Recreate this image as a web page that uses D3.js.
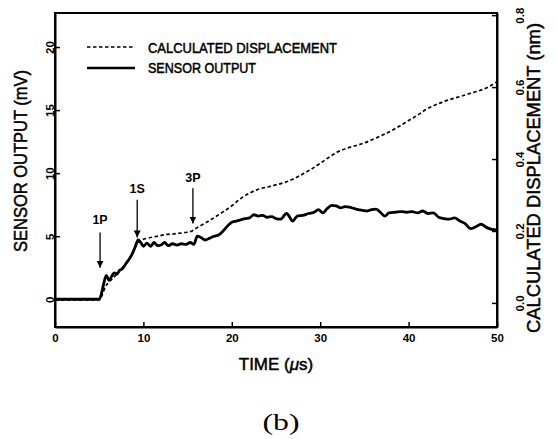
<!DOCTYPE html>
<html>
<head>
<style>
  body { margin: 0; background: #fff; }
  svg text { font-family: "Liberation Sans Narrow", "Liberation Sans", Arial, sans-serif; fill: #000; }
</style>
<script src="https://d3js.org/d3.v7.min.js"></script>
</head>
<body>
<script>
// sensor output (mV) vs time (us)
const sensorT = [0, 5.0, 5.2, 5.5, 5.8, 6.1, 6.4, 6.7, 7.0, 7.3, 7.6, 7.9, 8.2, 8.5, 8.8, 9.1, 9.4, 9.7, 10.0, 10.4, 10.8, 11.2, 11.6, 12.0, 12.4, 12.8, 13.3, 13.8, 14.3, 14.8, 15.3, 15.7, 16.1, 16.5, 17.0, 17.5, 18.0, 18.5, 19.0, 19.5, 20.0, 20.5, 21.0, 21.5, 22.0, 22.5, 23.0, 23.5, 24.0, 24.5, 25.0, 25.5, 26.2, 26.9, 27.4, 28.0, 28.7, 29.3, 29.8, 30.3, 30.8, 31.3, 31.8, 32.3, 32.8, 33.3, 33.8, 34.3, 34.8, 35.3, 35.8, 36.3, 36.8, 37.3, 37.8, 38.5, 39.2, 39.8, 40.4, 41.0, 41.6, 42.2, 42.8, 43.4, 44.0, 44.6, 45.2, 45.8, 46.4, 47.0, 47.6, 48.2, 48.8, 49.4, 50];
const sensorV = [0, 0, 0.3, 1.2, 1.9, 1.5, 1.8, 2.1, 2.0, 2.3, 2.4, 2.7, 3.0, 3.3, 3.7, 4.2, 4.7, 4.5, 4.2, 4.45, 4.2, 4.5, 4.25, 4.3, 4.5, 4.25, 4.4, 4.3, 4.4, 4.35, 4.5, 4.35, 5.0, 4.9, 4.7, 4.85, 5.0, 5.1, 5.4, 5.8, 6.1, 6.2, 6.3, 6.4, 6.45, 6.7, 6.6, 6.65, 6.5, 6.55, 6.4, 6.35, 6.8, 6.2, 6.6, 6.65, 6.8, 6.9, 7.1, 6.85, 7.2, 7.45, 7.4, 7.25, 7.35, 7.3, 7.2, 7.1, 7.05, 7.0, 7.1, 7.15, 6.9, 6.6, 6.85, 6.9, 6.95, 6.9, 6.95, 6.85, 7.0, 6.8, 6.85, 6.5, 6.4, 6.35, 6.45, 6.2, 6.0, 5.6, 5.75, 5.95, 5.7, 5.55, 5.5];

// calculated displacement (nm) vs time (us)
const dispT = [0, 5.0, 5.3, 5.7, 6.2, 6.8, 7.5, 8.2, 8.8, 9.3, 9.8, 10.5, 11.5, 12.5, 13.5, 14.5, 15.3, 16, 17, 18, 19, 20, 21, 22, 23, 24, 25, 26, 27, 28, 29, 30, 31, 32, 33, 34, 35, 36, 37, 38, 39, 40, 41, 42, 43, 44, 45, 46, 47, 48, 49, 50];
const dispV = [0.008, 0.008, 0.02, 0.045, 0.06, 0.075, 0.095, 0.115, 0.14, 0.165, 0.175, 0.18, 0.185, 0.19, 0.192, 0.195, 0.198, 0.208, 0.222, 0.237, 0.253, 0.27, 0.29, 0.305, 0.316, 0.322, 0.328, 0.335, 0.345, 0.358, 0.372, 0.388, 0.405, 0.42, 0.43, 0.437, 0.445, 0.455, 0.466, 0.478, 0.492, 0.507, 0.522, 0.538, 0.55, 0.56, 0.568, 0.575, 0.583, 0.59, 0.6, 0.615];

// wave arrivals: label, time, arrow tip / tail / label height in mV
const waveLabels = ["1P", "1S", "3P"];
const waveT = [5.1, 9.3, 15.6];
const waveTip = [2.5, 4.9, 6.0];
const waveTail = [5.3, 7.9, 8.8];
const waveText = [6.0, 8.4, 9.3];

const xTicks = [0, 10, 20, 30, 40, 50];
const yTicks = [0, 5, 10, 15, 20];
const y2Ticks = [0.0, 0.2, 0.4, 0.6, 0.8];

const W = 558, H = 439;
const mLeft = 55, mRight = 497, mTop = 13, mBottom = 327;

const svg = d3.select("body").append("svg").attr("width", W).attr("height", H);

const x = d3.scaleLinear().domain([0, 50]).range([mLeft, mRight]);
const y = d3.scaleLinear().domain([-2.2, 22.7]).range([mBottom, mTop]);
const y2 = d3.scaleLinear().domain([-0.067, 0.806]).range([mBottom, mTop]);

// frame
svg.append("rect").attr("x", mLeft).attr("y", mTop).attr("width", mRight - mLeft).attr("height", mBottom - mTop)
  .attr("fill", "none").attr("stroke", "#000").attr("stroke-width", 2);

// axes with inward ticks
const gx = svg.append("g").attr("transform", `translate(0,${mBottom})`)
  .call(d3.axisBottom(x).tickValues(xTicks).tickSizeInner(-5).tickSizeOuter(0).tickPadding(7));
const gy = svg.append("g").attr("transform", `translate(${mLeft},0)`)
  .call(d3.axisLeft(y).tickValues(yTicks).tickSizeInner(-5).tickSizeOuter(0));
const gy2 = svg.append("g").attr("transform", `translate(${mRight},0)`)
  .call(d3.axisRight(y2).tickValues(y2Ticks).tickFormat(d3.format(".1f")).tickSizeInner(-5).tickSizeOuter(0));

[gx, gy, gy2].forEach(g => {
  g.attr("font-family", null);
  g.select(".domain").attr("stroke-width", 2);
  g.selectAll(".tick line").attr("stroke-width", 1.5);
  g.selectAll("text").attr("font-size", 11.5).attr("font-weight", "bold");
});

gy.selectAll(".tick text")
  .attr("x", null).attr("dy", null).attr("text-anchor", "middle")
  .attr("transform", "translate(-1,0) rotate(-90)").attr("y", 0);
gy2.selectAll(".tick text")
  .attr("x", null).attr("dy", null).attr("text-anchor", "middle")
  .attr("transform", "translate(27,0) rotate(-90)").attr("y", 0);

// curves
const line = d3.line().curve(d3.curveMonotoneX);
svg.append("path")
  .attr("d", line(dispT.map((t, i) => [x(t), y2(dispV[i])])))
  .attr("fill", "none").attr("stroke", "#000").attr("stroke-width", 1.7).attr("stroke-dasharray", "3.5,2.5");
svg.append("path")
  .attr("d", line(sensorT.map((t, i) => [x(t), y(sensorV[i])])))
  .attr("fill", "none").attr("stroke", "#000").attr("stroke-width", 2.8).attr("stroke-linejoin", "round");

// arrival arrows
svg.append("defs").append("marker").attr("id", "head")
  .attr("viewBox", "0 0 10 10").attr("refX", 10).attr("refY", 5)
  .attr("markerWidth", 7).attr("markerHeight", 9).attr("markerUnits", "userSpaceOnUse").attr("orient", "auto")
  .append("path").attr("d", "M0,0 L10,5 L0,10 Z").attr("fill", "#000");

waveLabels.forEach((lab, i) => {
  svg.append("line")
    .attr("x1", x(waveT[i])).attr("x2", x(waveT[i]))
    .attr("y1", y(waveTail[i])).attr("y2", y(waveTip[i]))
    .attr("stroke", "#000").attr("stroke-width", 1.3).attr("marker-end", "url(#head)");
  svg.append("text").attr("x", x(waveT[i])).attr("y", y(waveText[i]))
    .attr("text-anchor", "middle").attr("font-size", 12.5).attr("font-weight", "bold").text(lab);
});

// legend
svg.append("line").attr("x1", 87).attr("x2", 135).attr("y1", 47).attr("y2", 47)
  .attr("stroke", "#000").attr("stroke-width", 1.7).attr("stroke-dasharray", "3.5,2.5");
svg.append("line").attr("x1", 87).attr("x2", 135).attr("y1", 68).attr("y2", 68)
  .attr("stroke", "#000").attr("stroke-width", 2.4);
svg.append("text").attr("x", 148).attr("y", 53).attr("font-size", 14.5)
  .attr("stroke", "#000").attr("stroke-width", 0.5)
  .attr("textLength", 189).attr("lengthAdjust", "spacingAndGlyphs").text("CALCULATED DISPLACEMENT");
svg.append("text").attr("x", 148).attr("y", 73).attr("font-size", 14.5)
  .attr("stroke", "#000").attr("stroke-width", 0.5)
  .attr("textLength", 108).attr("lengthAdjust", "spacingAndGlyphs").text("SENSOR OUTPUT");

// axis titles
svg.append("text").attr("transform", "translate(27,161) rotate(-90)").attr("text-anchor", "middle")
  .attr("stroke", "#000").attr("stroke-width", 0.5)
  .attr("font-size", 18.5).attr("textLength", 182).attr("lengthAdjust", "spacingAndGlyphs").text("SENSOR OUTPUT (mV)");
svg.append("text").attr("transform", "translate(540,178) rotate(-90)").attr("text-anchor", "middle")
  .attr("stroke", "#000").attr("stroke-width", 0.5)
  .attr("font-size", 18.5).attr("textLength", 310).attr("lengthAdjust", "spacingAndGlyphs").text("CALCULATED DISPLACEMENT (nm)");
svg.append("text").attr("x", 276).attr("y", 370).attr("text-anchor", "middle").attr("font-size", 17)
  .attr("stroke", "#000").attr("stroke-width", 0.5)
  .html('TIME (<tspan font-style="italic">μ</tspan>s)');

svg.append("text").attr("x", 281).attr("y", 430).attr("text-anchor", "middle")
  .style("font-family", "'Liberation Serif', 'DejaVu Serif', serif").attr("font-size", 24)
  .attr("textLength", 37).attr("lengthAdjust", "spacingAndGlyphs").text("(b)");
</script>
</body>
</html>
